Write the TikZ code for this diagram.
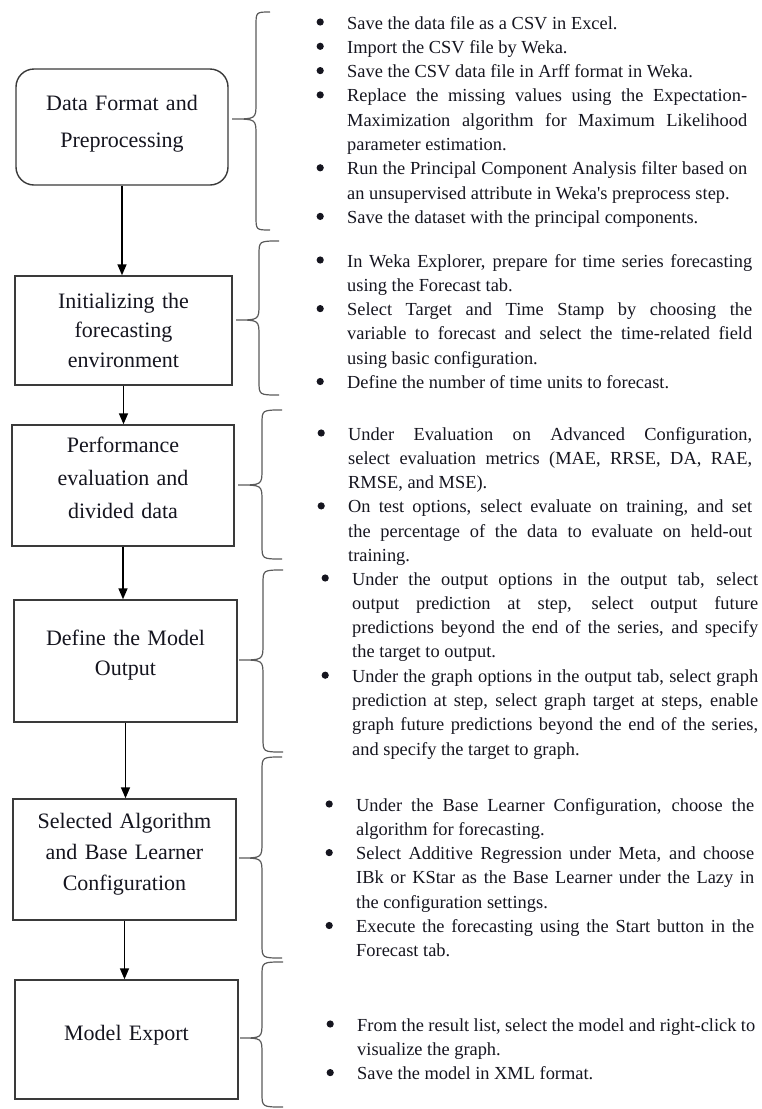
\documentclass[tikz,border=0pt]{standalone}
\usepackage{fontspec}
\setmainfont{Liberation Serif}
\usetikzlibrary{arrows.meta}
\definecolor{boxline}{HTML}{3A3A3A}
\definecolor{braceline}{HTML}{5A5A5A}
\definecolor{ink}{HTML}{15151F}
\newcommand\blockfont{\fontsize{18.4}{24.3}\selectfont}
\newsavebox\bulletbox
\newcommand\bitem[1]{\noindent\llap{\raisebox{3.4pt}{\usebox\bulletbox}\hspace{23.4pt}}#1\par}
\newcommand\curlybrace[6]{%
  \draw[bracestyle] (#1,#4) .. controls (#2,#4) .. (#2,#4+14)
    -- (#2,#5-16) .. controls (#2,#5) .. (#3,#5)
    .. controls (#2,#5) .. (#2,#5+16)
    -- (#2,#6-14) .. controls (#2,#6) .. (#1,#6);}
\tikzset{
  box/.style={draw=boxline, line width=1.4pt, fill=white, inner sep=0pt},
  roundbox/.style={box, rounded corners=18pt},
  boxtext/.style={anchor=base, inner sep=0pt, text width=222pt, align=center,
    text=ink, font=\fontsize{22}{#1}\selectfont},
  boxtext/.default=30,
  block/.style={anchor=base west, inner sep=0pt, align=justify, text=ink,
    font=\blockfont},
  flow/.style={line width=1.4pt, black, -{Triangle[length=11pt,width=9pt]}},
  bracestyle/.style={draw=braceline, line width=1.2pt}
}
\begin{document}
\sbox\bulletbox{\begin{pgfpicture}\pgfpathcircle{\pgfpoint{0pt}{0pt}}{3.6pt}\pgfsetfillcolor{ink}\pgfusepath{fill}\end{pgfpicture}}%
\begin{tikzpicture}[x=1pt,y=-1pt]
\useasboundingbox (0,0) rectangle (762,1109);
% boxes
\node[roundbox, minimum width=212pt, minimum height=116pt] (b1) at (122,127) {};
\node[box, minimum width=217pt, minimum height=109pt] (b2) at (123.5,330.5) {};
\node[box, minimum width=222pt, minimum height=121pt] (b3) at (123,485.5) {};
\node[box, minimum width=223pt, minimum height=122pt] (b4) at (125.5,661) {};
\node[box, minimum width=223pt, minimum height=121pt] (b5) at (124.5,859.5) {};
\node[box, minimum width=223pt, minimum height=119pt] (b6) at (126.5,1039.5) {};
% box texts
\node[boxtext=37] (t1) at (122,110) {Data Format and\\Preprocessing};
\node[boxtext=29.5] (t2) at (123.5,308) {Initializing the\\forecasting\\environment};
\node[boxtext=33] (t3) at (123,452) {Performance\\evaluation and\\divided data};
\node[boxtext=30] (t4) at (125.5,645) {Define the Model\\Output};
\node[boxtext=31] (t5) at (124.5,828) {Selected Algorithm\\and Base Learner\\Configuration};
\node[boxtext] (t6) at (126.5,1040) {Model Export};
% arrows
\draw[flow] (b1.south) -- (b1.south |- b2.north);
\draw[flow] (b2.south) -- (b2.south |- b3.north);
\draw[flow] (b3.south) -- (b3.south |- b4.north);
\draw[flow] (b4.south) -- (b4.south |- b5.north);
\draw[flow] (b5.south) -- (b5.south |- b6.north);
% braces
\curlybrace{270}{256}{232}{12}{119}{230}
\curlybrace{279}{259}{236}{241}{320}{395}
\curlybrace{282}{262}{238}{410}{485}{559}
\curlybrace{283}{263}{239}{570}{660}{752}
\curlybrace{282}{262}{239}{757}{858}{958}
\curlybrace{283}{262}{240}{962}{1038}{1107}
% text blocks
\node[block, text width=400pt] (l1) at (347,29) {%
\bitem{Save the data file as a CSV in Excel.}%
\bitem{Import the CSV file by Weka.}%
\bitem{Save the CSV data file in Arff format in Weka.}%
\bitem{Replace the missing values using the Expectation-\linebreak Maximization algorithm for Maximum Likelihood\linebreak parameter estimation.}%
\bitem{Run the Principal Component Analysis filter based on\linebreak an unsupervised attribute in Weka\textquotesingle s preprocess step.}%
\bitem{Save the dataset with the principal components.}};
\node[block, text width=405pt] (l2) at (347,267) {%
\bitem{In Weka Explorer, prepare for time series forecasting\linebreak using the Forecast tab.}%
\bitem{Select Target and Time Stamp by choosing the\linebreak variable to forecast and select the time-related field\linebreak using basic configuration.}%
\bitem{Define the number of time units to forecast.}};
\node[block, text width=404pt] (l3) at (348,440) {%
\bitem{Under Evaluation on Advanced Configuration,\linebreak select evaluation metrics (MAE, RRSE, DA, RAE,\linebreak RMSE, and MSE).}%
\bitem{On test options, select evaluate on training, and set\linebreak the percentage of the data to evaluate on held-out\linebreak training.}};
\node[block, text width=406pt] (l4) at (352,585) {%
\bitem{Under the output options in the output tab, select\linebreak output prediction at step, select output future\linebreak predictions beyond the end of the series, and specify\linebreak the target to output.}%
\bitem{Under the graph options in the output tab, select graph\linebreak prediction at step, select graph target at steps, enable\linebreak graph future predictions beyond the end of the series,\linebreak and specify the target to graph.}};
\node[block, text width=398pt] (l5) at (356,811) {%
\bitem{Under the Base Learner Configuration, choose the\linebreak algorithm for forecasting.}%
\bitem{Select Additive Regression under Meta, and choose\linebreak IBk or KStar as the Base Learner under the Lazy in\linebreak the configuration settings.}%
\bitem{Execute the forecasting using the Start button in the\linebreak Forecast tab.}};
\node[block, text width=398pt] (l6) at (357,1031) {%
\bitem{From the result list, select the model and right-click to\linebreak visualize the graph.}%
\bitem{Save the model in XML format.}};
\end{tikzpicture}
\end{document}
